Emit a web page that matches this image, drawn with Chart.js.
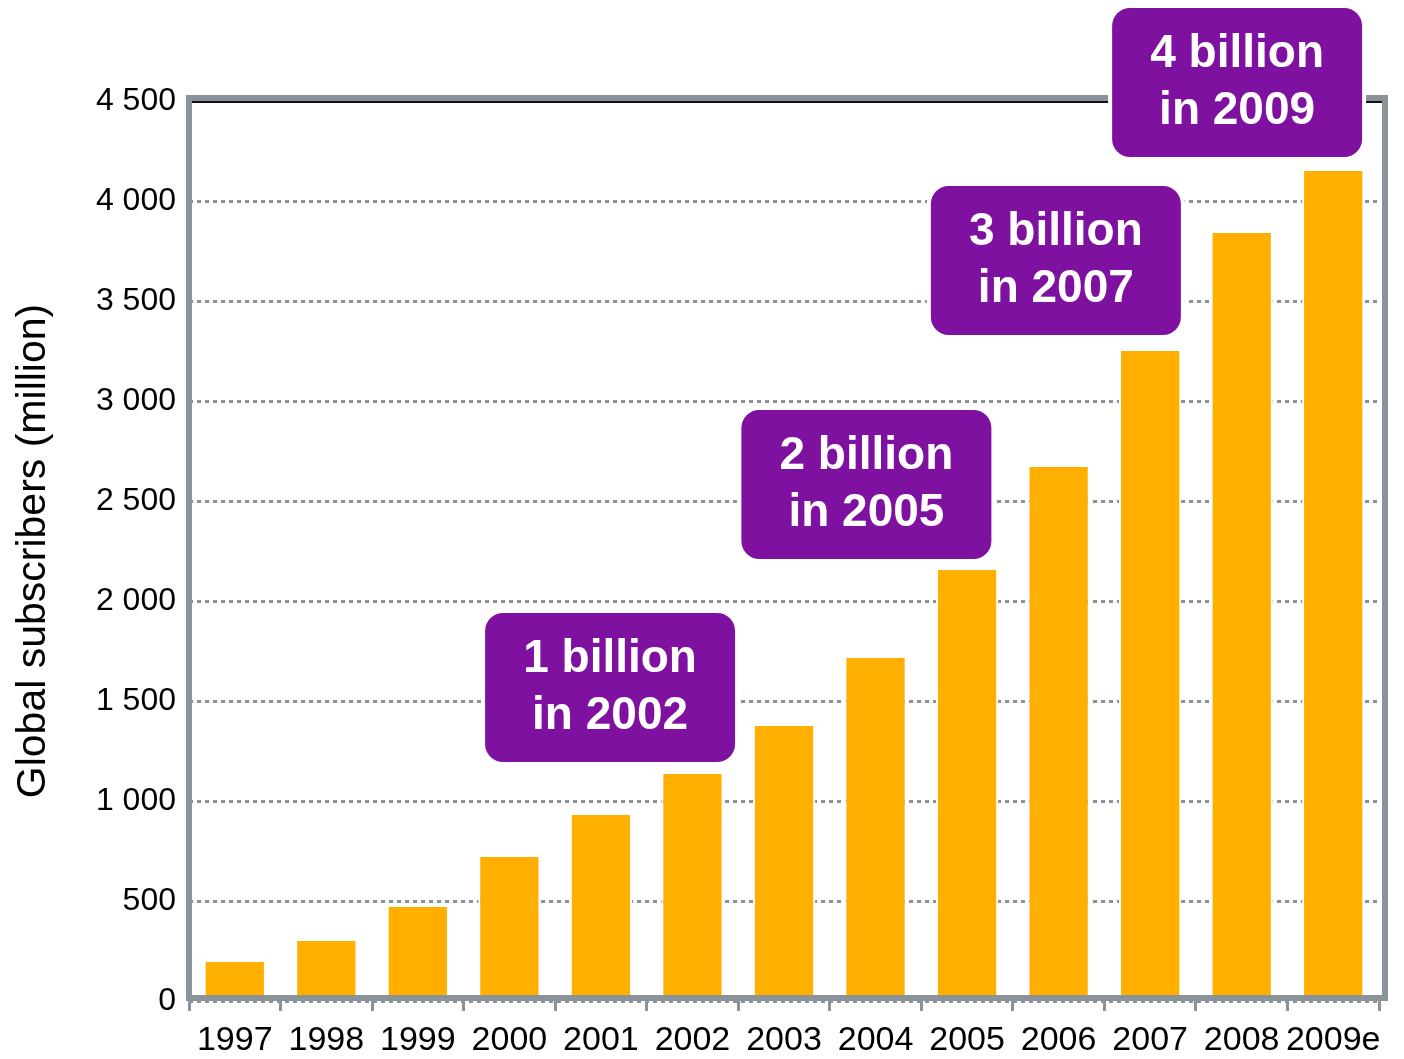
<!DOCTYPE html>
<html>
<head>
<meta charset="utf-8">
<script src="https://cdn.jsdelivr.net/npm/chart.js@4"></script>
<style>
  html, body { margin: 0; padding: 0; background: #fff; }
  #wrap { width: 1404px; height: 1059px; }
</style>
</head>
<body>
<div id="wrap"><canvas id="subsChart" width="1404" height="1059"></canvas></div>
<script>
// data (million subscribers)
const years = ['1997', '1998', '1999', '2000', '2001', '2002', '2003', '2004', '2005', '2006', '2007', '2008', '2009e'];
const subscribers = [195, 300, 470, 720, 930, 1135, 1375, 1715, 2155, 2670, 3250, 3840, 4150];
const yTicks = [0, 500, 1000, 1500, 2000, 2500, 3000, 3500, 4000, 4500];

// milestone call-outs: text, centre (category index), top edge (axis value)
const noteLines = [['1 billion', 'in 2002'], ['2 billion', 'in 2005'], ['3 billion', 'in 2007'], ['4 billion', 'in 2009']];
const noteCentres = [4.1, 6.9, 8.97, 10.95];
const noteTops = [1940, 2955, 4075, 4965];

const grey = '#8a929a';
const orange = '#ffaf00';
const purple = '#7f11a0';

const fmt = v => String(v).replace(/\B(?=(\d{3})+(?!\d))/g, ' ');

// frame round the plot + purple boxes on top
const framePlugin = {
    id: 'frameAndNotes',
    afterDatasetsDraw(chart) {
        const { ctx, chartArea: a, scales } = chart;
        ctx.save();
        ctx.strokeStyle = grey;
        ctx.lineWidth = 6;
        ctx.strokeRect(a.left, a.top - 3, a.right + 6 - a.left, a.bottom - a.top);
        ctx.strokeStyle = '#111';
        ctx.lineWidth = 2;
        ctx.beginPath();
        ctx.moveTo(a.left + 3, a.top + 1);
        ctx.lineTo(a.right + 3, a.top + 1);
        ctx.stroke();

        const w = 250, h = 149, r = 18;
        noteLines.forEach((lines, i) => {
            const cx = scales.x.getPixelForValue(noteCentres[i]);
            const top = scales.y.getPixelForValue(noteTops[i]);
            const x0 = cx - w / 2;
            ctx.beginPath();
            ctx.roundRect(x0, top, w, h, r);
            ctx.lineWidth = 8;
            ctx.strokeStyle = '#fff';
            ctx.stroke();
            ctx.fillStyle = purple;
            ctx.fill();
            ctx.fillStyle = '#fff';
            ctx.font = 'bold 46px "Liberation Sans", Arial, sans-serif';
            ctx.textAlign = 'center';
            ctx.textBaseline = 'middle';
            ctx.fillText(lines[0], cx, top + h / 2 - 28);
            ctx.fillText(lines[1], cx, top + h / 2 + 29);
        });
        ctx.restore();
    }
};

const ctx = document.getElementById('subsChart').getContext('2d');
new Chart(ctx, {
    type: 'bar',
    data: {
        labels: years,
        datasets: [{
            label: 'Global subscribers',
            data: subscribers,
            backgroundColor: orange,
            borderColor: '#fff',
            borderWidth: { top: 0, left: 2, right: 2, bottom: 0 },
            barPercentage: 0.68,
            categoryPercentage: 1.0
        }]
    },
    options: {
        responsive: false,
        animation: false,
        layout: { padding: { top: 101, right: 25, bottom: 0, left: 0 } },
        plugins: { legend: { display: false }, tooltip: { enabled: false } },
        scales: {
            x: {
                offset: true,
                grid: { offset: true, drawOnChartArea: false, drawTicks: true, tickLength: 10, color: grey, lineWidth: 3 },
                border: { display: false },
                ticks: {
                    color: '#000',
                    padding: 9,
                    maxRotation: 0,
                    autoSkip: false,
                    font: { family: '"Liberation Sans", Arial, sans-serif', size: 34 }
                },
                afterFit: s => { s.height = 58; }
            },
            y: {
                min: 0,
                max: 4500,
                afterBuildTicks: s => { s.ticks = yTicks.map(v => ({ value: v })); },
                grid: { color: grey, lineWidth: 3, drawTicks: false },
                border: { display: false, dash: [4, 4] },
                ticks: {
                    color: '#000',
                    padding: 13,
                    callback: v => fmt(v),
                    font: { family: '"Liberation Sans", Arial, sans-serif', size: 32 }
                },
                title: {
                    display: true,
                    text: 'Global subscribers (million)',
                    color: '#000',
                    padding: { top: 9, bottom: 0 },
                    font: { family: '"Liberation Sans", Arial, sans-serif', size: 41 }
                },
                afterFit: s => { s.width = 189; }
            }
        }
    },
    plugins: [framePlugin]
});
</script>
</body>
</html>
